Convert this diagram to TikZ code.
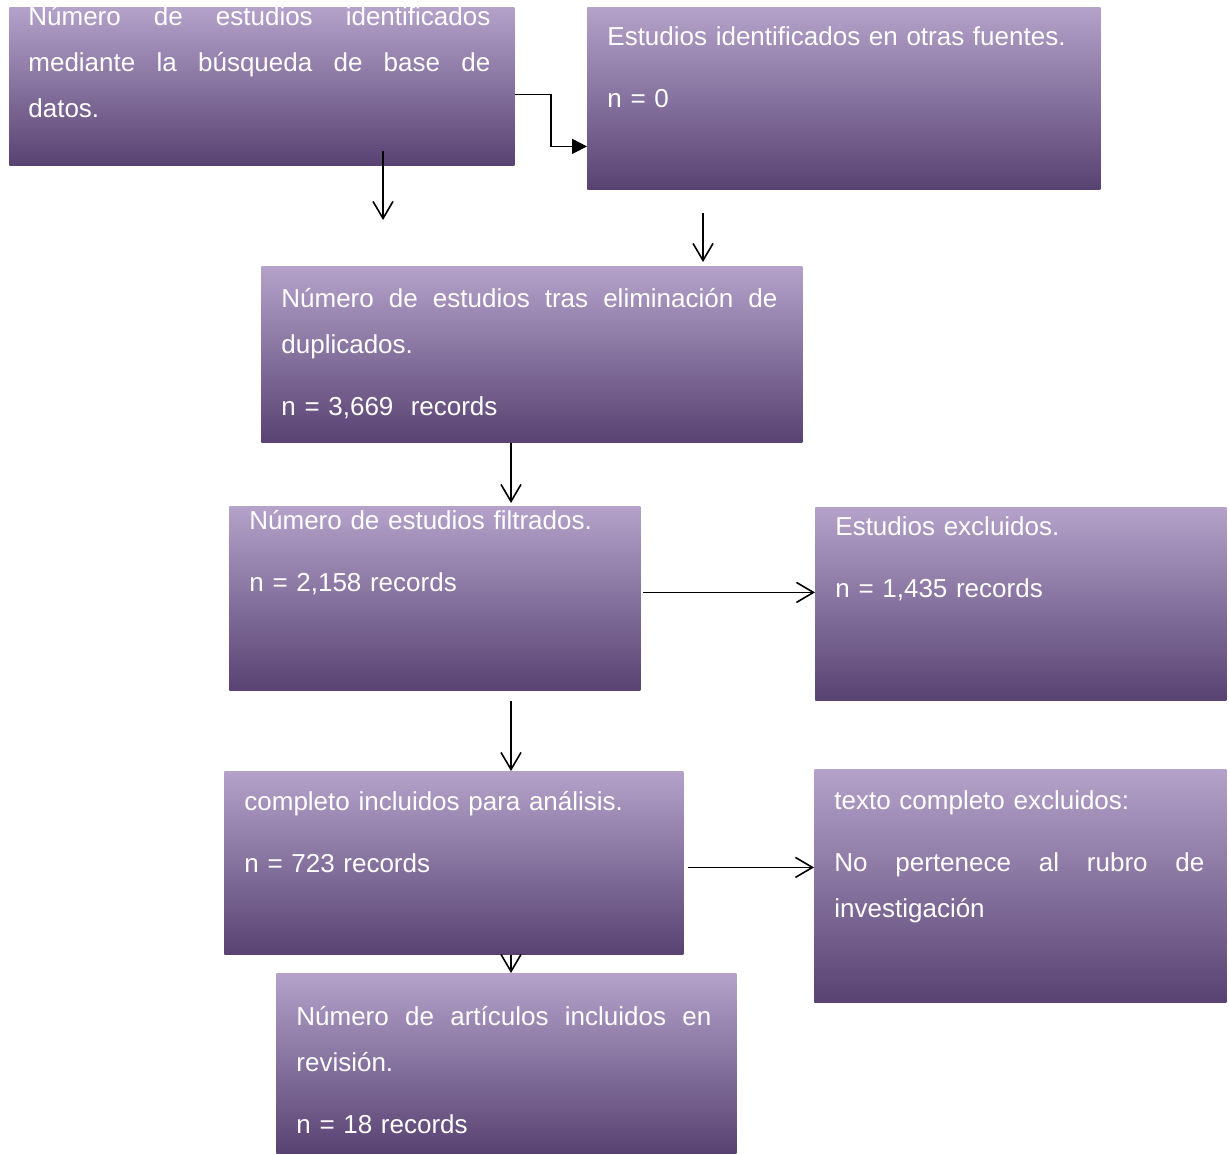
\documentclass[tikz,border=0pt]{standalone}
\usepackage{fontspec}
\setmainfont{Liberation Sans}
\usetikzlibrary{arrows.meta, positioning, calc}
\definecolor{boxtop}{RGB}{180,162,202}
\definecolor{boxmid}{RGB}{128,100,164}
\definecolor{boxbot}{RGB}{88,66,114}
\tikzset{
  box/.style n args={2}{anchor=north west, inner sep=0pt, minimum width=#1*0.5pt, minimum height=#2*0.5pt, top color=boxtop, middle color=boxmid, bottom color=boxbot},
  txt/.style={anchor=base west, inner sep=0pt, text=white, align=left},
  arr/.style={line width=0.8pt, -{Straight Barb[length=8.5pt, width=10pt, line width=0.8pt]}},
  arrfill/.style={line width=0.8pt, -{Triangle[length=7.5pt, width=7.5pt]}}
}
\newcommand{\jline}[1]{\makebox[\linewidth][s]{\spaceskip=0.28em plus 1fil #1}}

\begin{document}
\begin{tikzpicture}[x=0.5pt, y=-0.5pt, every node/.style={font=\fontsize{13}{23}\selectfont}]
\useasboundingbox (0,0) rectangle (1229,1153);

\node[box={505}{158}] (idbd) at (9,7) {};
\node[txt, text width=231pt] (idbdt) at (28,25) {\jline{Número de estudios identificados}\\ \jline{mediante la búsqueda de base de}\\ datos.};

\node[box={513}{182}] (otras) at (587,7) {};
\node[txt, text width=235pt] (otrast) at (607,45) {Estudios identificados en otras fuentes.\\[8.25pt] n = 0};

\node[box={541}{176}] (dupl) at (261,266) {};
\node[txt, text width=248pt] (duplt) at (281,307) {\jline{Número de estudios tras eliminación de}\\ duplicados.\\[8.25pt] n = 3,669~ records};

\node[box={411}{184}] (filt) at (229,506) {};
\node[txt, text width=185pt] (filtt) at (249,529) {Número de estudios filtrados.\\[8.25pt] n = 2,158 records};

\node[box={411}{193}] (excl) at (815,507) {};
\node[txt, text width=185pt] (exclt) at (835,535) {Estudios excluidos.\\[8.25pt] n = 1,435 records};

\node[box={459}{183}] (compl) at (224,771) {};
\node[txt, text width=210pt] (complt) at (244,810) {completo incluidos para análisis.\\[8.25pt] n = 723 records};

\node[box={412}{233}] (texc) at (814,769) {};
\node[txt, text width=185pt] (texct) at (834,809) {texto completo excluidos:\\[8.25pt] \jline{No pertenece al rubro de}\\ investigación};

\node[box={460}{180}] (incl) at (276,973) {};
\node[txt, text width=207.5pt] (inclt) at (296,1025) {\jline{Número de artículos incluidos en}\\ revisión.\\[8.25pt] n = 18 records};

\coordinate (a2end) at (383,220);
\coordinate (a3start) at (703,213);
\coordinate (midx) at (511,0);

\draw[arrfill] ([yshift=-4pt]idbd.east) -- ++(36,0) |- ([yshift=-24pt]otras.west);
\draw[arr] ($(idbd.south -| a2end)+(0,-15)$) -- (a2end);
\draw[arr, shorten >=2pt] (a3start) -- (a3start |- dupl.north);
\draw[arr, shorten >=1.5pt] (dupl.south -| midx) -- (filt.north -| midx);
\draw[arr, shorten <=5pt] (filt.south -| midx) -- (compl.north -| midx);
\draw[arr, shorten <=1pt] ([yshift=3pt]filt.east) -- ([yshift=3pt]filt.east -| excl.west);
\draw[arr, shorten <=2pt] ([yshift=-2.25pt]compl.east) -- ([yshift=-2.25pt]compl.east -| texc.west);
\draw[arr] (compl.south -| midx) -- (incl.north -| midx);
\end{tikzpicture}
\end{document}
